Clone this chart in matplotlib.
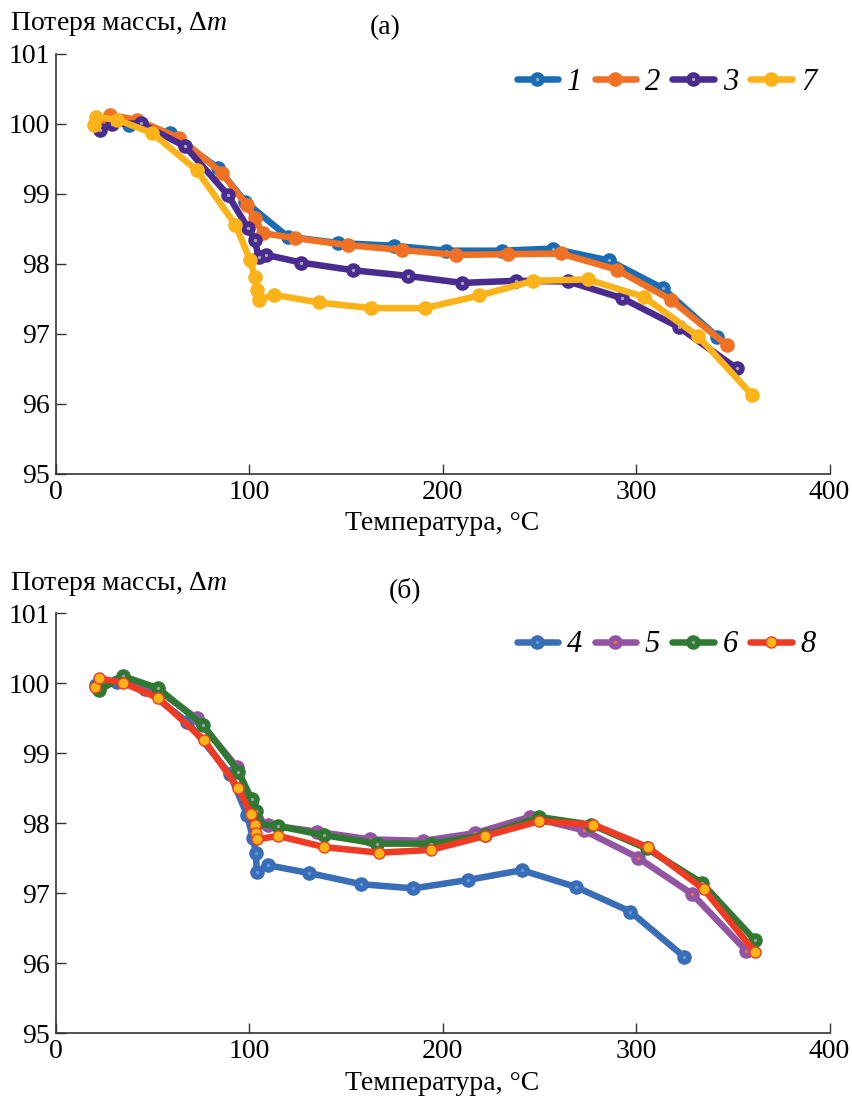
import matplotlib
matplotlib.use('Agg')
import matplotlib.pyplot as plt

plt.rcParams['font.family'] = ['Liberation Serif', 'DejaVu Serif']
plt.rcParams['mathtext.fontset'] = 'custom'
plt.rcParams['mathtext.it'] = 'Liberation Serif:italic'
plt.rcParams['mathtext.rm'] = 'Liberation Serif'

# ---------------- data: panel (а) ----------------
t1 = [21, 28, 38, 59, 84, 98, 120, 146, 175, 202, 231, 257, 286, 314, 342]
m1 = [100.0, 100.07, 99.99, 99.87, 99.37, 98.89, 98.39, 98.30, 98.26, 98.19, 98.19, 98.22, 98.05, 97.65, 96.96]

t2 = [22, 28, 42, 64, 86, 99, 103, 107, 124, 151, 179, 207, 234, 261, 290, 318, 347]
m2 = [100.03, 100.13, 100.06, 99.80, 99.30, 98.84, 98.65, 98.44, 98.37, 98.27, 98.20, 98.13, 98.14, 98.15, 97.92, 97.49, 96.84]

t3 = [23, 29, 44, 67, 89, 99.6, 103, 105, 109, 127, 154, 182, 210, 238, 265, 293, 322, 352]
m3 = [99.91, 100.0, 100.01, 99.68, 98.99, 98.51, 98.34, 98.10, 98.13, 98.02, 97.91, 97.83, 97.73, 97.76, 97.75, 97.51, 97.10, 96.51]

t7 = [20, 21, 32, 50, 73, 93, 100.5, 103, 104, 105, 113, 136, 163, 191, 219, 247, 275, 304, 332, 360]
m7 = [99.99, 100.10, 100.06, 99.87, 99.34, 98.56, 98.06, 97.81, 97.63, 97.49, 97.56, 97.45, 97.37, 97.37, 97.55, 97.76, 97.78, 97.53, 96.97, 96.13]

# ---------------- data: panel (б) ----------------
t4 = [21, 32, 46, 68, 90, 99, 102, 103.6, 104, 110, 131, 158, 185, 213, 241, 269, 297, 325]
m4 = [99.97, 100.02, 99.92, 99.45, 98.71, 98.12, 97.79, 97.58, 97.31, 97.40, 97.29, 97.13, 97.07, 97.19, 97.33, 97.09, 96.74, 96.09]

t5 = [23, 35, 53, 73, 93.6, 101, 104, 110, 135, 162.5, 190, 217, 245, 273, 301, 329, 357]
m5 = [99.97, 100.08, 99.90, 99.50, 98.81, 98.30, 98.05, 97.98, 97.88, 97.77, 97.75, 97.86, 98.09, 97.90, 97.51, 96.99, 96.18]

t6 = [22.6, 35, 53, 76.4, 94.5, 101.4, 103.6, 104, 115, 139, 166, 194, 222, 250, 277, 305.5, 334, 361.5]
m6 = [99.90, 100.10, 99.93, 99.40, 98.74, 98.34, 98.17, 98.00, 97.96, 97.83, 97.71, 97.71, 97.83, 98.09, 97.98, 97.64, 97.15, 96.33]

t8 = [20.4, 22.6, 34.7, 53, 76.7, 94.5, 101, 103, 103.6, 104, 115, 139, 167, 194, 222, 250, 278, 306, 335, 361.5]
m8 = [99.95, 100.07, 100.01, 99.79, 99.19, 98.50, 98.13, 97.97, 97.86, 97.77, 97.82, 97.66, 97.58, 97.62, 97.82, 98.03, 97.98, 97.66, 97.06, 96.16]

labels_a = ['1', '2', '3', '7']
labels_b = ['4', '5', '6', '8']
x_ticks = [0, 100, 200, 300, 400]
y_ticks = [95, 96, 97, 98, 99, 100, 101]

# styles: (line color, marker face, center dot color or None, marker edge)
styles_a = [
    ('#1a6db5', '#1a6db5', '#8fa8c0', '#1a6db5'),
    ('#f07024', '#f07024', None, '#f07024'),
    ('#4a2c90', '#4a2c90', '#a8a8b0', '#4a2c90'),
    ('#fcb31a', '#fcb31a', None, '#fcb31a'),
]
styles_b = [
    ('#3a6db8', '#3a6db8', '#5aa0e0', '#3a6db8'),
    ('#9454a4', '#9454a4', '#f07030', '#9454a4'),
    ('#2f7a32', '#2f7a32', '#a0a0a0', '#2f7a32'),
    ('#ef3b24', '#fdb515', None, '#ef3b24'),
]

W, H = 852, 1096
fig = plt.figure(figsize=(W / 100, H / 100), dpi=100)

ax_left = 55.5 / W
ax_w = 774 / W
ax_h = 420 / H
axA = fig.add_axes([ax_left, 1 - 474 / H, ax_w, ax_h])
axB = fig.add_axes([ax_left, 1 - 1033.3 / H, ax_w, ax_h])

FS = 20


def draw(ax, series, styles):
    handles = []
    for (t, m), (lc, mf, dc, me) in zip(series, styles):
        if mf != lc:
            ln, = ax.plot(t, m, '-', color=lc, lw=4.7, marker='o', ms=8,
                          mfc=mf, mec=me, mew=1.0, solid_capstyle='round',
                          solid_joinstyle='round')
            handles.append(ln)
        else:
            ln, = ax.plot(t, m, '-', color=lc, lw=4.7, marker='o', ms=10.5,
                          mfc=mf, mec=me, mew=0, solid_capstyle='round',
                          solid_joinstyle='round')
            if dc is not None:
                dt, = ax.plot(t, m, 'o', ms=2.4, mfc=dc, mec=dc, mew=0, ls='none')
                handles.append((ln, dt))
            else:
                handles.append(ln)
    ax.set_xlim(0, 400)
    ax.set_ylim(95, 101)
    ax.set_xticks(x_ticks)
    ax.set_yticks(y_ticks)
    ax.tick_params(direction='in', length=7, width=1.0, labelsize=FS, pad=4,
                   color='#333333')
    for s in ['top', 'right']:
        ax.spines[s].set_visible(False)
    for s in ['left', 'bottom']:
        ax.spines[s].set_linewidth(1.2)
        ax.spines[s].set_color('#333333')
    ax.set_xlabel('Температура, °C', fontsize=FS, labelpad=5)
    return handles


hA = draw(axA, [(t1, m1), (t2, m2), (t3, m3), (t7, m7)], styles_a)
hB = draw(axB, [(t4, m4), (t5, m5), (t6, m6), (t8, m8)], styles_b)

for ax, h, lab, yc in [(axA, hA, labels_a, 82), (axB, hB, labels_b, 645)]:
    ax.legend(h, lab, loc='center right', bbox_to_anchor=(816 / W, 1 - yc / H),
              bbox_transform=fig.transFigure, ncol=4, frameon=False,
              prop={'family': 'Liberation Serif', 'style': 'italic', 'size': 22},
              handlelength=1.35, handletextpad=0.3, columnspacing=0.4,
              borderpad=0, borderaxespad=0)

fig.text(10 / W, 1 - 24 / H, 'Потеря массы, Δ$m$', fontsize=FS, ha='left', va='center')
fig.text(385 / W, 1 - 28 / H, '(а)', fontsize=FS, ha='center', va='center')
fig.text(10 / W, 1 - 584 / H, 'Потеря массы, Δ$m$', fontsize=FS, ha='left', va='center')
fig.text(405 / W, 1 - 590 / H, '(б)', fontsize=FS, ha='center', va='center')

fig.savefig('out.png', dpi=100)
